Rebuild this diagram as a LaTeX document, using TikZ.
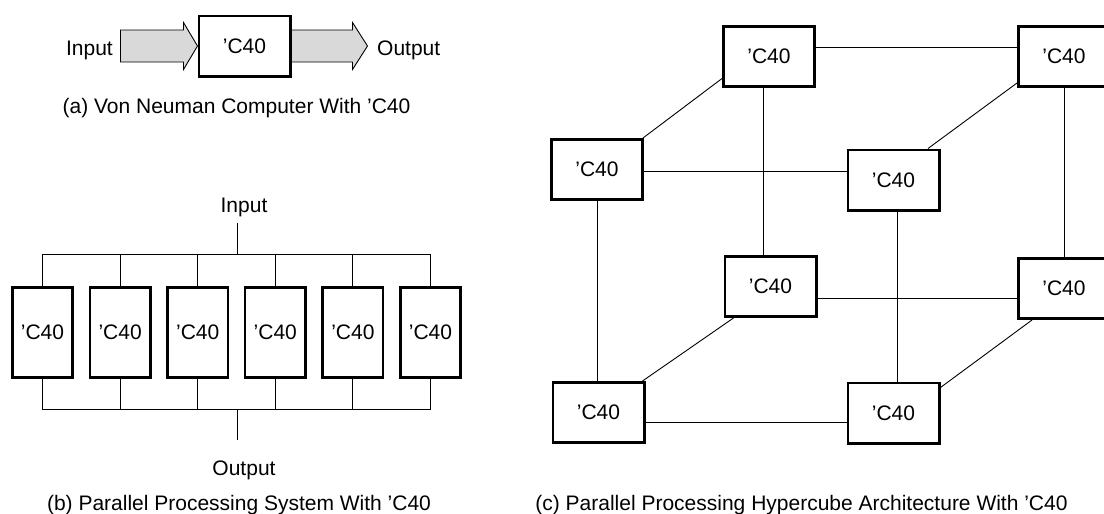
\documentclass[tikz,border=0pt]{standalone}
\usepackage{fontspec}
\setmainfont{Liberation Sans}
\usepackage{tikz}
\usetikzlibrary{positioning}
\tikzset{
  chip/.style={draw=black,line width=2.6pt,minimum width=91.4pt,minimum height=60.4pt,inner sep=0pt},
  chiptall/.style={chip,minimum width=60.4pt,minimum height=90.4pt},
  link/.style={draw=black,line width=0.9pt},
  fatarrow/.style={draw=black,line width=0.9pt,fill=black!15,line join=miter},
  lbl/.style={inner sep=0pt}
}

\begin{document}
\begin{tikzpicture}[x=1pt,y=-1pt,node distance=14.6pt,every node/.style={font=\fontsize{21}{25}\selectfont}]
      \useasboundingbox (0,0) rectangle (1104,514);
      \node[chip] (cpu) at (244.5,46) {’C40};
      \draw[fatarrow] (cpu.west) -- ++(-14,-23.5) -- ++(0,7.5) -- ++(-63,0) -- ++(0,32) -- ++(63,0) -- ++(0,7.5) -- cycle;
      \draw[fatarrow] ([yshift=16pt]cpu.east) -- ++(61,0) -- ++(0,-7.5) -- ++(15,23.5) -- ++(-15,23.5) -- ++(0,-7.5) -- ++(-61,0) -- cycle;
      \node[lbl,anchor=base east] (inA) at (113,56) {Input};
      \node[lbl,anchor=base west] (outA) at (377,56) {Output};
      \node[lbl,anchor=base] (capA) at (236.5,113) {(a) Von Neuman Computer With ’C40};
      \node[chiptall] (p1) at (42.5,332.5) {’C40};
      \node[chiptall,right=of p1] (p2) {’C40};
      \node[chiptall,right=of p2] (p3) {’C40};
      \node[chiptall,right=of p3] (p4) {’C40};
      \node[chiptall,right=of p4] (p5) {’C40};
      \node[chiptall,right=of p5] (p6) {’C40};
      \coordinate (busin) at (237,254);
      \coordinate (busout) at (237,409);
      \node[lbl,anchor=base] (inB) at (244,212) {Input};
      \node[lbl,anchor=base] (outB) at (244,475) {Output};
      \node[lbl,anchor=base] (capB) at (239,510) {(b) Parallel Processing System With ’C40};
      \draw[link] (busin) -- ++(0,-31);
      \draw[link] (p1.north) -- (p1.north |- busin) -| (p6.north);
      \draw[link] (p2.north) -- (p2.north |- busin);
      \draw[link] (p3.north) -- (p3.north |- busin);
      \draw[link] (p4.north) -- (p4.north |- busin);
      \draw[link] (p5.north) -- (p5.north |- busin);
      \draw[link] (busout) -- ++(0,31);
      \draw[link] (p1.south) -- (p1.south |- busout) -| (p6.south);
      \draw[link] (p2.south) -- (p2.south |- busout);
      \draw[link] (p3.south) -- (p3.south |- busout);
      \draw[link] (p4.south) -- (p4.south |- busout);
      \draw[link] (p5.south) -- (p5.south |- busout);
      \node[chip] (t1) at (769,56.5) {’C40};
      \node[chip] (t2) at (1064,56.5) {’C40};
      \node[chip] (f1) at (597,169.5) {’C40};
      \node[chip] (f2) at (893.5,180) {’C40};
      \node[chip] (b1) at (770.5,286.5) {’C40};
      \node[chip] (b2) at (1064,288.5) {’C40};
      \node[chip] (f3) at (598.5,412.5) {’C40};
      \node[chip] (f4) at (893.5,413) {’C40};
      \node[lbl,anchor=base] (capC) at (801.5,510) {(c) Parallel Processing Hypercube Architecture With ’C40};
      \draw[link] ([yshift=9.5pt]t1.east) -- ([yshift=9.5pt]t2.west);
      \draw[link] ([yshift=-1.5pt]f1.east) -- ([yshift=-1.5pt]f1.east -| f2.west);
      \draw[link] ([yshift=-11.5pt]b1.east) -- ([yshift=-11.5pt]b1.east -| b2.west);
      \draw[link] ([yshift=-9.5pt]f3.east) -- ([yshift=-9.5pt]f3.east -| f4.west);
      \draw[link] ([xshift=-6pt]t1.south) -- ([xshift=-6pt]t1.south |- b1.north);
      \draw[link] (f1.south) -- (f1.south |- f3.north);
      \draw[link] ([xshift=3.5pt]f2.south) -- ([xshift=3.5pt]f2.south |- f4.north);
      \draw[link] (t2.south) -- (b2.north);
      \draw[link] ([xshift=-1pt]f1.north east) -- ([yshift=9.5pt]t1.south west);
      \draw[link] ([xshift=34.5pt]f2.north) -- ([yshift=5pt]t2.south west);
      \draw[link] ([xshift=-3pt]f3.north east) -- ([xshift=10pt]b1.south west);
      \draw[link] ([yshift=-6pt]f4.north east) -- ([xshift=15pt]b2.south west);
    \end{tikzpicture}
\end{document}
